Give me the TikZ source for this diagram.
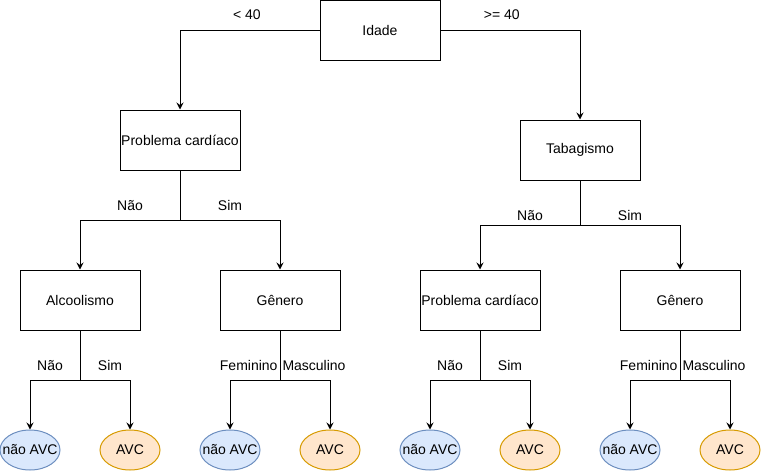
\documentclass[tikz,border=0pt]{standalone}
\usepackage{fontspec}
\setmainfont{Liberation Sans}
\usetikzlibrary{arrows.meta,shapes.geometric}
\definecolor{azulborda}{HTML}{6C8EBF}
\definecolor{azulfundo}{HTML}{DAE8FC}
\definecolor{laranjaborda}{HTML}{D79B00}
\definecolor{laranjafundo}{HTML}{FFE6CC}
\tikzset{
  >={Stealth[length=7pt,width=7pt,inset=2.5pt]},
  every picture/.style={line width=1pt},
  teste/.style={draw, rectangle, minimum width=120pt, minimum height=60pt, inner sep=0pt, fill=white},
  folha/.style={ellipse, minimum width=60pt, minimum height=40pt, inner sep=0pt},
  naoavc/.style={folha, draw=azulborda, fill=azulfundo},
  simavc/.style={folha, draw=laranjaborda, fill=laranjafundo},
  rotulo/.style={inner sep=0pt},
}
\newcommand{\folhatxt}[1]{\makebox[0pt]{#1}}

\begin{document}
\begin{tikzpicture}[x=1pt, y=-1pt, font=\fontsize{14}{16}\selectfont]
    \useasboundingbox (0,0) rectangle (761,471);
    % Raiz
    \node[teste] (idade) at (380,30)  {Idade};
    % Primeiro nivel
    \node[teste] (pc1)   at (180,140) {Problema cardíaco};
    \node[teste] (tab)   at (580,150) {Tabagismo};
    % Segundo nivel
    \node[teste] (alc)   at (80,300)  {Alcoolismo};
    \node[teste] (gen1)  at (280,300) {Gênero};
    \node[teste] (pc2)   at (480,300) {Problema cardíaco};
    \node[teste] (gen2)  at (680,300) {Gênero};
    % Folhas
    \node[naoavc] (f1) at (30,450)  {\folhatxt{não AVC}};
    \node[simavc] (f2) at (130,450) {\folhatxt{AVC}};
    \node[naoavc] (f3) at (230,450) {\folhatxt{não AVC}};
    \node[simavc] (f4) at (330,450) {\folhatxt{AVC}};
    \node[naoavc] (f5) at (430,450) {\folhatxt{não AVC}};
    \node[simavc] (f6) at (530,450) {\folhatxt{AVC}};
    \node[naoavc] (f7) at (630,450) {\folhatxt{não AVC}};
    \node[simavc] (f8) at (730,450) {\folhatxt{AVC}};
    % Arestas
    \draw[->] (idade.west) -| node[rotulo, pos=0.26, yshift=15pt] {< 40} (pc1.north);
    \draw[->] (idade.east) -| node[rotulo, pos=0.22, yshift=15pt] {>= 40} (tab.north);
    \draw[->] (pc1.south) -- ++(0,50) -| node[rotulo, pos=0.25, yshift=15pt] {Não} (alc.north);
    \draw[->] (pc1.south) -- ++(0,50) -| node[rotulo, pos=0.25, yshift=15pt] {Sim} (gen1.north);
    \draw[->] (tab.south) -- ++(0,45) -| node[rotulo, pos=0.25, yshift=10pt] {Não} (pc2.north);
    \draw[->] (tab.south) -- ++(0,45) -| node[rotulo, pos=0.25, yshift=10pt] {Sim} (gen2.north);
    \draw[->] (alc.south) -- ++(0,50) -| node[rotulo, pos=0.3, yshift=15pt] {Não} (f1.north);
    \draw[->] (alc.south) -- ++(0,50) -| node[rotulo, pos=0.3, yshift=15pt] {Sim} (f2.north);
    \draw[->] (gen1.south) -- ++(0,50) -| node[rotulo, pos=0, anchor=east, xshift=-2pt, yshift=15pt] {Feminino} (f3.north);
    \draw[->] (gen1.south) -- ++(0,50) -| node[rotulo, pos=0, anchor=west, xshift=2pt, yshift=15pt] {Masculino} (f4.north);
    \draw[->] (pc2.south) -- ++(0,50) -| node[rotulo, pos=0.3, yshift=15pt] {Não} (f5.north);
    \draw[->] (pc2.south) -- ++(0,50) -| node[rotulo, pos=0.3, yshift=15pt] {Sim} (f6.north);
    \draw[->] (gen2.south) -- ++(0,50) -| node[rotulo, pos=0, anchor=east, xshift=-2pt, yshift=15pt] {Feminino} (f7.north);
    \draw[->] (gen2.south) -- ++(0,50) -| node[rotulo, pos=0, anchor=west, xshift=2pt, yshift=15pt] {Masculino} (f8.north);
\end{tikzpicture}
\end{document}
